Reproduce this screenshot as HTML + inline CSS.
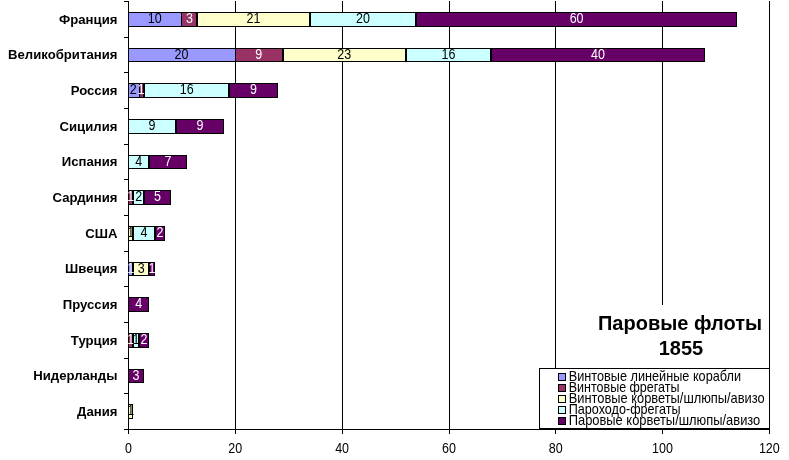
<!DOCTYPE html><html><head><meta charset="utf-8"><title>Паровые флоты 1855</title>
<style>html,body{margin:0;padding:0;background:#fff}svg{display:block}text{font-family:"Liberation Sans",Arial,sans-serif;font-size:13.9px}.c{font-weight:bold;text-anchor:end;font-size:13.33px}.m{text-anchor:middle}.t{font-weight:bold;font-size:20px;text-anchor:middle}</style></head><body>
<svg width="789" height="460" viewBox="0 0 789 460">
<rect width="789" height="460" fill="#fff"/>
<g shape-rendering="crispEdges">
<rect x="235" y="1" width="1" height="428" fill="#000"/>
<rect x="342" y="1" width="1" height="428" fill="#000"/>
<rect x="449" y="1" width="1" height="428" fill="#000"/>
<rect x="555" y="1" width="1" height="428" fill="#000"/>
<rect x="662" y="1" width="1" height="428" fill="#000"/>
<rect x="769" y="1" width="1" height="428" fill="#000"/>
<rect x="128.5" y="12.5" width="53" height="14" fill="#9999ff" stroke="#000" stroke-width="1"/>
<rect x="181.5" y="12.5" width="15" height="14" fill="#993366" stroke="#000" stroke-width="1"/>
<rect x="197.5" y="12.5" width="112" height="14" fill="#ffffcc" stroke="#000" stroke-width="1"/>
<rect x="310.5" y="12.5" width="105" height="14" fill="#ccffff" stroke="#000" stroke-width="1"/>
<rect x="416.5" y="12.5" width="320" height="14" fill="#660066" stroke="#000" stroke-width="1"/>
<rect x="128.5" y="48.5" width="107" height="13" fill="#9999ff" stroke="#000" stroke-width="1"/>
<rect x="235.5" y="48.5" width="47" height="13" fill="#993366" stroke="#000" stroke-width="1"/>
<rect x="283.5" y="48.5" width="122" height="13" fill="#ffffcc" stroke="#000" stroke-width="1"/>
<rect x="406.5" y="48.5" width="84" height="13" fill="#ccffff" stroke="#000" stroke-width="1"/>
<rect x="491.5" y="48.5" width="213" height="13" fill="#660066" stroke="#000" stroke-width="1"/>
<rect x="128.5" y="83.5" width="11" height="14" fill="#9999ff" stroke="#000" stroke-width="1"/>
<rect x="139.5" y="83.5" width="4" height="14" fill="#993366" stroke="#000" stroke-width="1"/>
<rect x="144.5" y="83.5" width="84" height="14" fill="#ccffff" stroke="#000" stroke-width="1"/>
<rect x="229.5" y="83.5" width="48" height="14" fill="#660066" stroke="#000" stroke-width="1"/>
<rect x="128.5" y="119.5" width="47" height="14" fill="#ccffff" stroke="#000" stroke-width="1"/>
<rect x="176.5" y="119.5" width="47" height="14" fill="#660066" stroke="#000" stroke-width="1"/>
<rect x="128.5" y="155.5" width="20" height="13" fill="#ccffff" stroke="#000" stroke-width="1"/>
<rect x="149.5" y="155.5" width="37" height="13" fill="#660066" stroke="#000" stroke-width="1"/>
<rect x="128.5" y="190.5" width="4" height="14" fill="#993366" stroke="#000" stroke-width="1"/>
<rect x="133.5" y="190.5" width="10" height="14" fill="#ccffff" stroke="#000" stroke-width="1"/>
<rect x="144.5" y="190.5" width="26" height="14" fill="#660066" stroke="#000" stroke-width="1"/>
<rect x="128.5" y="226.5" width="4" height="14" fill="#ffffcc" stroke="#000" stroke-width="1"/>
<rect x="133.5" y="226.5" width="21" height="14" fill="#ccffff" stroke="#000" stroke-width="1"/>
<rect x="155.5" y="226.5" width="9" height="14" fill="#660066" stroke="#000" stroke-width="1"/>
<rect x="128.5" y="262.5" width="4" height="13" fill="#9999ff" stroke="#000" stroke-width="1"/>
<rect x="133.5" y="262.5" width="15" height="13" fill="#ffffcc" stroke="#000" stroke-width="1"/>
<rect x="149.5" y="262.5" width="5" height="13" fill="#660066" stroke="#000" stroke-width="1"/>
<rect x="128.5" y="297.5" width="20" height="14" fill="#660066" stroke="#000" stroke-width="1"/>
<rect x="128.5" y="333.5" width="4" height="14" fill="#993366" stroke="#000" stroke-width="1"/>
<rect x="133.5" y="333.5" width="5" height="14" fill="#ccffff" stroke="#000" stroke-width="1"/>
<rect x="139.5" y="333.5" width="9" height="14" fill="#660066" stroke="#000" stroke-width="1"/>
<rect x="128.5" y="369.5" width="15" height="13" fill="#660066" stroke="#000" stroke-width="1"/>
<rect x="128.5" y="404.5" width="4" height="14" fill="#ffffcc" stroke="#000" stroke-width="1"/>
<rect x="128" y="1" width="1" height="429" fill="#000"/>
<rect x="124" y="429" width="646" height="1" fill="#000"/>
<rect x="124" y="1" width="5" height="1" fill="#000"/>
<rect x="124" y="37" width="5" height="1" fill="#000"/>
<rect x="124" y="72" width="5" height="1" fill="#000"/>
<rect x="124" y="108" width="5" height="1" fill="#000"/>
<rect x="124" y="144" width="5" height="1" fill="#000"/>
<rect x="124" y="179" width="5" height="1" fill="#000"/>
<rect x="124" y="215" width="5" height="1" fill="#000"/>
<rect x="124" y="251" width="5" height="1" fill="#000"/>
<rect x="124" y="286" width="5" height="1" fill="#000"/>
<rect x="124" y="322" width="5" height="1" fill="#000"/>
<rect x="124" y="358" width="5" height="1" fill="#000"/>
<rect x="124" y="393" width="5" height="1" fill="#000"/>
<rect x="124" y="429" width="5" height="1" fill="#000"/>
<rect x="128" y="429" width="1" height="5" fill="#000"/>
<rect x="235" y="429" width="1" height="5" fill="#000"/>
<rect x="342" y="429" width="1" height="5" fill="#000"/>
<rect x="449" y="429" width="1" height="5" fill="#000"/>
<rect x="555" y="429" width="1" height="5" fill="#000"/>
<rect x="662" y="429" width="1" height="5" fill="#000"/>
<rect x="769" y="429" width="1" height="5" fill="#000"/>
<rect x="596" y="305" width="168" height="63" fill="#fff"/>
<rect x="539.5" y="368.5" width="230" height="60" fill="#fff" stroke="#000" stroke-width="1"/>
<rect x="558.5" y="373.5" width="7" height="7" fill="#9999ff" stroke="#000" stroke-width="1"/>
<rect x="558.5" y="384.5" width="7" height="7" fill="#993366" stroke="#000" stroke-width="1"/>
<rect x="558.5" y="395.5" width="7" height="7" fill="#ffffcc" stroke="#000" stroke-width="1"/>
<rect x="558.5" y="406.5" width="7" height="7" fill="#ccffff" stroke="#000" stroke-width="1"/>
<rect x="558.5" y="417.5" width="7" height="7" fill="#660066" stroke="#000" stroke-width="1"/>
</g>
<text class="c" transform="translate(117.4,23.60) scale(0.987,1)">Франция</text>
<text class="m" transform="translate(154.7,23) scale(0.9,1.02)" fill="#000">10</text>
<text class="m" transform="translate(189.4,23) scale(0.9,1.02)" fill="#fff">3</text>
<text class="m" transform="translate(253.5,23) scale(0.9,1.02)" fill="#000">21</text>
<text class="m" transform="translate(363.0,23) scale(0.9,1.02)" fill="#000">20</text>
<text class="m" transform="translate(576.6,23) scale(0.9,1.02)" fill="#fff">60</text>
<text class="c" transform="translate(117.4,59.27) scale(0.987,1)">Великобритания</text>
<text class="m" transform="translate(181.4,59) scale(0.9,1.02)" fill="#000">20</text>
<text class="m" transform="translate(258.8,59) scale(0.9,1.02)" fill="#fff">9</text>
<text class="m" transform="translate(344.3,59) scale(0.9,1.02)" fill="#000">23</text>
<text class="m" transform="translate(448.4,59) scale(0.9,1.02)" fill="#000">16</text>
<text class="m" transform="translate(597.9,59) scale(0.9,1.02)" fill="#fff">40</text>
<text class="c" transform="translate(117.4,94.93) scale(0.987,1)">Россия</text>
<text class="m" transform="translate(133.3,94) scale(0.9,1.02)" fill="#000">2</text>
<text class="m" transform="translate(141.3,94) scale(0.9,1.02)" fill="#fff">1</text>
<text class="m" transform="translate(186.7,94) scale(0.9,1.02)" fill="#000">16</text>
<text class="m" transform="translate(253.5,94) scale(0.9,1.02)" fill="#fff">9</text>
<text class="c" transform="translate(117.4,130.60) scale(0.987,1)">Сицилия</text>
<text class="m" transform="translate(152.0,130) scale(0.9,1.02)" fill="#000">9</text>
<text class="m" transform="translate(200.1,130) scale(0.9,1.02)" fill="#fff">9</text>
<text class="c" transform="translate(117.4,166.27) scale(0.987,1)">Испания</text>
<text class="m" transform="translate(138.7,166) scale(0.9,1.02)" fill="#000">4</text>
<text class="m" transform="translate(168.1,166) scale(0.9,1.02)" fill="#fff">7</text>
<text class="c" transform="translate(117.4,201.93) scale(0.987,1)">Сардиния</text>
<text class="m" transform="translate(130.7,201) scale(0.9,1.02)" fill="#fff">1</text>
<text class="m" transform="translate(138.7,201) scale(0.9,1.02)" fill="#000">2</text>
<text class="m" transform="translate(157.4,201) scale(0.9,1.02)" fill="#fff">5</text>
<text class="c" transform="translate(117.4,237.60) scale(0.987,1)">США</text>
<text class="m" transform="translate(130.7,237) scale(0.9,1.02)" fill="#000">1</text>
<text class="m" transform="translate(144.0,237) scale(0.9,1.02)" fill="#000">4</text>
<text class="m" transform="translate(160.0,237) scale(0.9,1.02)" fill="#fff">2</text>
<text class="c" transform="translate(117.4,273.27) scale(0.987,1)">Швеция</text>
<text class="m" transform="translate(130.7,273) scale(0.9,1.02)" fill="#e6e6ff">1</text>
<text class="m" transform="translate(141.3,273) scale(0.9,1.02)" fill="#000">3</text>
<text class="m" transform="translate(152.0,273) scale(0.9,1.02)" fill="#fff">1</text>
<text class="c" transform="translate(117.4,308.93) scale(0.987,1)">Пруссия</text>
<text class="m" transform="translate(138.7,308) scale(0.9,1.02)" fill="#fff">4</text>
<text class="c" transform="translate(117.4,344.60) scale(0.987,1)">Турция</text>
<text class="m" transform="translate(130.7,344) scale(0.9,1.02)" fill="#fff">1</text>
<text class="m" transform="translate(136.0,344) scale(0.9,1.02)" fill="#000">1</text>
<text class="m" transform="translate(144.0,344) scale(0.9,1.02)" fill="#fff">2</text>
<text class="c" transform="translate(117.4,380.27) scale(0.987,1)">Нидерланды</text>
<text class="m" transform="translate(136.0,380) scale(0.9,1.02)" fill="#fff">3</text>
<text class="c" transform="translate(117.4,415.93) scale(0.987,1)">Дания</text>
<text class="m" transform="translate(130.7,415) scale(0.9,1.02)" fill="#000">1</text>
<text class="m" transform="translate(128.5,453.2) scale(0.9,1.02)">0</text>
<text class="m" transform="translate(235.3,453.2) scale(0.9,1.02)">20</text>
<text class="m" transform="translate(342.1,453.2) scale(0.9,1.02)">40</text>
<text class="m" transform="translate(448.9,453.2) scale(0.9,1.02)">60</text>
<text class="m" transform="translate(555.7,453.2) scale(0.9,1.02)">80</text>
<text class="m" transform="translate(662.5,453.2) scale(0.9,1.02)">100</text>
<text class="m" transform="translate(769.3,453.2) scale(0.9,1.02)">120</text>
<text class="t" x="680" y="330">Паровые флоты</text>
<text class="t" x="681" y="355.2">1855</text>
<text x="568.7" y="381" textLength="172.3" lengthAdjust="spacingAndGlyphs">Винтовые линейные корабли</text>
<text x="568.7" y="392" textLength="110.8" lengthAdjust="spacingAndGlyphs">Винтовые фрегаты</text>
<text x="568.7" y="403" textLength="196" lengthAdjust="spacingAndGlyphs">Винтовые корветы/шлюпы/авизо</text>
<text x="568.7" y="414" textLength="111.8" lengthAdjust="spacingAndGlyphs">Пароходо-фрегаты</text>
<text x="568.7" y="425" textLength="191.6" lengthAdjust="spacingAndGlyphs">Паровые корветы/шлюпы/авизо</text>
</svg></body></html>
